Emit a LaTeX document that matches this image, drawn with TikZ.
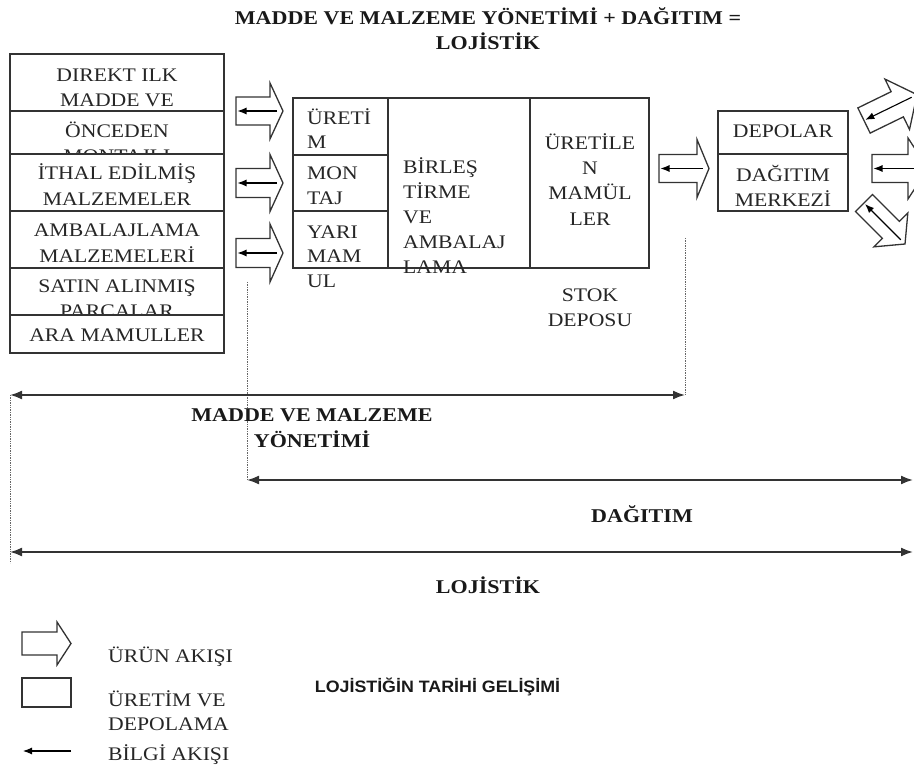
\documentclass[tikz,border=0pt]{standalone}
\usepackage{fontspec}
\setmainfont{Liberation Serif}[FakeStretch=1.13]
\newfontfamily\sansb{Liberation Sans}[FakeStretch=1.08]
\usetikzlibrary{arrows.meta}
\tikzset{
  lab/.style={inner sep=0, anchor=base, font=\fontsize{19.2}{25}\selectfont, text=black!85},
  labl/.style={lab, anchor=base west},
  bl/.style={inner sep=0, anchor=base, font=\fontsize{19.5}{25}\selectfont\bfseries, text=black!90},
  box/.style={draw=black!80, line width=1.4pt, fill=white},
  ln/.style={draw=black!80, line width=1.4pt},
  info/.style={draw=black, line width=1.1pt, -{Latex[length=9pt,width=7pt]}},
  span/.style={draw=black!80, line width=1.8pt, {Latex[length=12pt,width=9pt]}-{Latex[length=12pt,width=9pt]}},
  guide/.style={draw=black!60, line width=1pt, dash pattern=on 1.4pt off 1pt},
  pics/barr/.style n args={4}{code={
    \draw[box, line width=1.3pt] (0,-#3) -- (#1,-#3) -- (#1,-#4) -- ({#1+#2},0) -- (#1,#4) -- (#1,#3) -- (0,#3) -- cycle;
    \coordinate (-t) at (1.5,0);
    \coordinate (-h) at ({#1+#2-6},0);
  }}
}
\begin{document}
\begin{tikzpicture}[x=1pt,y=-1pt]
\useasboundingbox (0,0) rectangle (914,767);
\clip (0,0) rectangle (914,767);

% title
\node[bl] (title1) at (488,25) {MADDE VE MALZEME YÖNETİMİ + DAĞITIM =};
\node[bl] (title2) at (488,50) {LOJİSTİK};

% left stack
\draw[box] (10,54) rectangle (224,111);
\node[lab] (s1a) at (117,82) {DIREKT ILK};
\node[lab] (s1b) at (117,107) {MADDE VE};
\draw[box] (10,111) rectangle (224,154);
\node[lab] (s2a) at (117,138) {ÖNCEDEN};
\node[lab] (s2b) at (117,163) {MONTAJLI};
\draw[box] (10,154) rectangle (224,211);
\node[lab] (s3a) at (117,180) {İTHAL EDİLMİŞ};
\node[lab] (s3b) at (117,206) {MALZEMELER};
\draw[box] (10,211) rectangle (224,268);
\node[lab] (s4a) at (117,237) {AMBALAJLAMA};
\node[lab] (s4b) at (117,263) {MALZEMELERİ};
\draw[box] (10,268) rectangle (224,315);
\node[lab] (s5a) at (117,293) {SATIN ALINMIŞ};
\node[lab] (s5b) at (117,318) {PARCALAR};
\draw[box] (10,315) rectangle (224,353);
\node[lab] (s6a) at (117,342) {ARA MAMULLER};

% block arrows left -> middle
\pic (a1) at (236,111) {barr={34}{13}{14}{28}};
\pic (a2) at (236,183) {barr={34}{13}{14.5}{28.5}};
\pic (a3) at (236,253) {barr={34}{13}{14.5}{29}};
\draw[info] (a1-h) -- (a1-t);
\draw[info] (a2-h) -- (a2-t);
\draw[info] (a3-h) -- (a3-t);

% middle box
\draw[box] (293,98) rectangle (649,268);
\draw[ln] (388,98) -- (388,268);
\draw[ln] (530,98) -- (530,268);
\draw[ln] (293,155) -- (388,155);
\draw[ln] (293,211) -- (388,211);
\node[labl] (m1) at (307,125) {ÜRETİ};
\node[labl] (m2) at (307,149) {M};
\node[labl] (m3) at (307,180) {MON};
\node[labl] (m4) at (307,205) {TAJ};
\node[labl] (m5) at (307,239) {YARI};
\node[labl] (m6) at (307,263) {MAM};
\node[labl] (m7) at (307,288) {UL};
\node[labl] (b1) at (403,174) {BİRLEŞ};
\node[labl] (b2) at (403,199) {TİRME};
\node[labl] (b3) at (403,224) {VE};
\node[labl] (b4) at (403,249) {AMBALAJ};
\node[labl] (b5) at (403,274) {LAMA};
\node[lab] (u1) at (590,150) {ÜRETİLE};
\node[lab] (u2) at (590,175) {N};
\node[lab] (u3) at (590,200) {MAMÜL};
\node[lab] (u4) at (590,226) {LER};
\node[lab] (sk1) at (590,302) {STOK};
\node[lab] (sk2) at (590,327) {DEPOSU};

% arrow middle -> right
\pic (a4) at (659,168.5) {barr={38}{12}{14}{29}};
\draw[info] (a4-h) -- (a4-t);

% right box
\draw[box] (718,111) rectangle (848,211);
\draw[ln] (718,154) -- (848,154);
\node[lab] (d1) at (783,138) {DEPOLAR};
\node[lab] (d2) at (783,182) {DAĞITIM};
\node[lab] (d3) at (783,207) {MERKEZİ};

% outgoing arrows
\pic[rotate=26] (r1) at (864,120.5) {barr={37}{22}{14}{28}};
\pic (r2) at (872,168.5) {barr={36}{20}{14}{30.5}};
\pic[rotate=-45] (r3) at (864,203) {barr={38}{20}{12}{24}};
\draw[info] (r1-h) -- (r1-t);
\draw[info] (r2-h) -- (r2-t);
\draw[info] (r3-h) -- (r3-t);

% guides and spans
\coordinate (gL1) at (10,395);
\coordinate (gL2) at (10,563);
\coordinate (gD1) at (247,282);
\coordinate (gD2) at (247,480);
\coordinate (gM1) at (685,238);
\coordinate (gM2) at (685,395);
\coordinate (dR) at (913,480);
\coordinate (lL) at (10,552);
\coordinate (lR) at (913,552);
\draw[guide] (gL1) -- (gL2);
\draw[guide] (gD1) -- (gD2);
\draw[guide] (gM1) -- (gM2);
\draw[span] (gL1) -- (gM2);
\draw[span] (gD2) -- (dR);
\draw[span] (lL) -- (lR);
\node[bl] (mm1) at (312,422) {MADDE VE MALZEME};
\node[bl] (mm2) at (312,448) {YÖNETİMİ};
\node[bl] (dg) at (642,522) {DAĞITIM};
\node[bl] (lj) at (488,593) {LOJİSTİK};

% legend
\pic (lgA) at (22,643.5) {barr={35}{14}{11.5}{21.5}};
\node[labl] (lg1) at (108,662) {ÜRÜN AKIŞI};
\draw[box] (22,678) rectangle (71,707);
\node[labl] (lg2) at (108,706) {ÜRETİM VE};
\node[labl] (lg3) at (108,730) {DEPOLAMA};
\coordinate (lgB1) at (71,751);
\coordinate (lgB2) at (23,751);
\draw[info] (lgB1) -- (lgB2);
\node[labl] (lg4) at (108,760) {BİLGİ AKIŞI};
\node[inner sep=0, anchor=base, font=\sansb\fontsize{16.5}{20}\selectfont\bfseries, text=black!90] (hist) at (437.5,692) {LOJİSTİĞİN TARİHİ GELİŞİMİ};
\end{tikzpicture}
\end{document}
